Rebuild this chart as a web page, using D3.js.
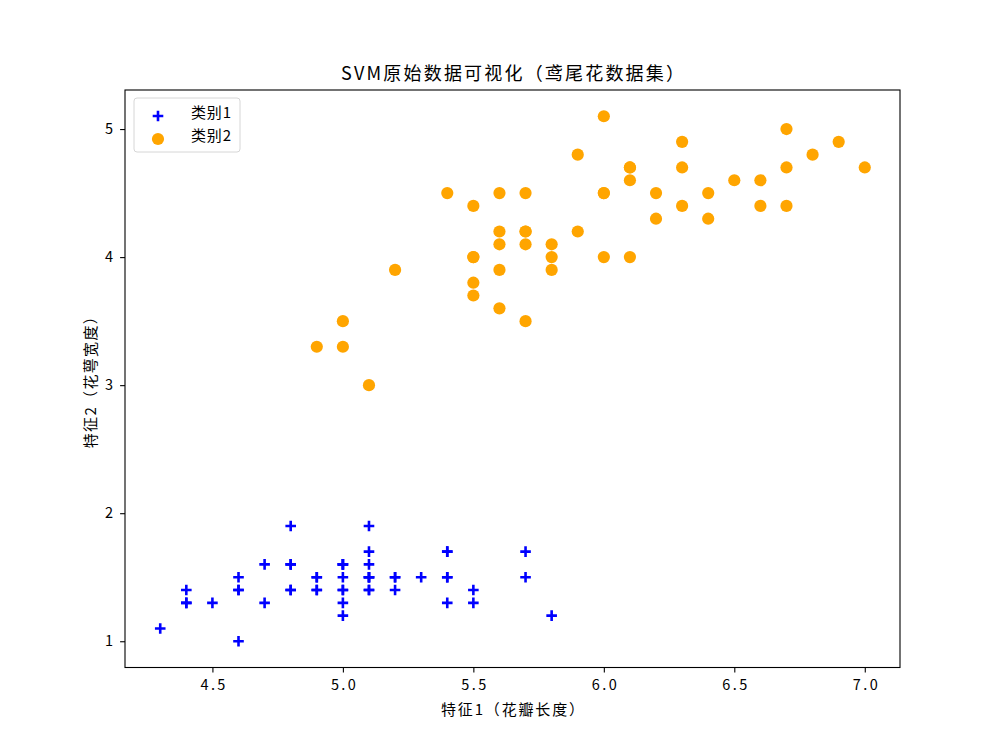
<!DOCTYPE html>
<html>
<head>
<meta charset="utf-8">
<script src="https://cdn.jsdelivr.net/npm/d3@7"></script>
<style>
  html, body { margin: 0; padding: 0; background: #fff; }
  text { font-family: "Noto Sans CJK SC", "DejaVu Sans", sans-serif; }
</style>
</head>
<body>
<svg id="chart" width="1000" height="750"></svg>
<script>
// Category 1 (blue "+")
const class1X = [5.1,4.9,4.7,4.6,5.0,5.4,4.6,5.0,4.4,4.9,5.4,4.8,4.8,4.3,5.8,5.7,5.4,5.1,5.7,5.1,5.4,5.1,4.6,5.1,4.8,5.0,5.0,5.2,5.2,4.7,4.8,5.4,5.2,5.5,4.9,5.0,5.5,4.9,4.4,5.1,5.0,4.5,4.4,5.0,5.1,4.8,5.1,4.6,5.3,5.0];
const class1Y = [1.4,1.4,1.3,1.5,1.4,1.7,1.4,1.5,1.4,1.5,1.5,1.6,1.4,1.1,1.2,1.5,1.3,1.4,1.7,1.5,1.7,1.5,1.0,1.7,1.9,1.6,1.6,1.5,1.4,1.6,1.6,1.5,1.5,1.4,1.5,1.2,1.3,1.4,1.3,1.5,1.3,1.3,1.3,1.6,1.9,1.4,1.6,1.4,1.5,1.4];
// Category 2 (orange circles)
const class2X = [7.0,6.4,6.9,5.5,6.5,5.7,6.3,4.9,6.6,5.2,5.0,5.9,6.0,6.1,5.6,6.7,5.6,5.8,6.2,5.6,5.9,6.1,6.3,6.1,6.4,6.6,6.8,6.7,6.0,5.7,5.5,5.5,5.8,6.0,5.4,6.0,6.7,6.3,5.6,5.5,5.5,6.1,5.8,5.0,5.6,5.7,5.7,6.2,5.1,5.7];
const class2Y = [4.7,4.5,4.9,4.0,4.6,4.5,4.7,3.3,4.6,3.9,3.5,4.2,4.0,4.7,3.6,4.4,4.5,4.1,4.5,3.9,4.8,4.0,4.9,4.7,4.3,4.4,4.8,5.0,4.5,3.5,3.8,3.7,3.9,5.1,4.5,4.5,4.7,4.4,4.1,4.0,4.4,4.6,4.0,3.3,4.2,4.2,4.2,4.3,3.0,4.1];

const xTicks = [4.5, 5.0, 5.5, 6.0, 6.5, 7.0];
const yTicks = [1, 2, 3, 4, 5];
const seriesNames = ["类别1", "类别2"];
const seriesColors = ["blue", "orange"];
const titleText = "SVM原始数据可视化（鸢尾花数据集）";
const xLabelText = "特征1（花瓣长度）";
const yLabelText = "特征2（花萼宽度）";

const svg = d3.select("#chart");
const L = 125, R = 900, T = 90, B = 667.5;

const allX = class1X.concat(class2X), allY = class1Y.concat(class2Y);
const xmin = d3.min(allX), xmax = d3.max(allX);
const ymin = d3.min(allY), ymax = d3.max(allY);
const xm = (xmax - xmin) * 0.05, ym = (ymax - ymin) * 0.05;

const x = d3.scaleLinear().domain([xmin - xm, xmax + xm]).range([L, R]);
const y = d3.scaleLinear().domain([ymin - ym, ymax + ym]).range([B, T]);

// Axes
const xAxis = d3.axisBottom(x).tickValues(xTicks).tickFormat(d3.format(".1f")).tickSize(4.9).tickPadding(7.5);
const yAxis = d3.axisLeft(y).tickValues(yTicks).tickFormat(d3.format("d")).tickSize(4.9).tickPadding(7);

const gx = svg.append("g").attr("transform", `translate(0,${B})`).call(xAxis);
const gy = svg.append("g").attr("transform", `translate(${L},0)`).call(yAxis);
[gx, gy].forEach(g => {
  g.select(".domain").remove();
  g.selectAll("line").attr("stroke", "#000").attr("stroke-width", 1.1);
  g.selectAll("text").attr("font-size", "14.5px").attr("fill", "#000")
    .style("font-family", '"Noto Sans CJK SC", sans-serif');
});
gx.selectAll("text").attr("textLength", 25).attr("lengthAdjust", "spacing");

// Frame
svg.append("rect").attr("x", L).attr("y", T).attr("width", R - L).attr("height", B - T)
  .attr("fill", "none").attr("stroke", "#000").attr("stroke-width", 1.1);

// Data
const plot = svg.append("g");
const d1 = class1X.map((v, i) => [v, class1Y[i]]);
const d2 = class2X.map((v, i) => [v, class2Y[i]]);

const pr = 5.3, pw = 2.6, cr = 6.1;
plot.selectAll("path.p1").data(d1).enter().append("path")
  .attr("class", "p1")
  .attr("d", d => `M${x(d[0]) - pr},${y(d[1])}H${x(d[0]) + pr}M${x(d[0])},${y(d[1]) - pr}V${y(d[1]) + pr}`)
  .attr("stroke", seriesColors[0]).attr("stroke-width", pw).attr("fill", "none");

plot.selectAll("circle.p2").data(d2).enter().append("circle")
  .attr("class", "p2")
  .attr("cx", d => x(d[0])).attr("cy", d => y(d[1])).attr("r", cr)
  .attr("fill", seriesColors[1]);

// Title & labels
svg.append("text").attr("x", (L + R) / 2).attr("y", 80).attr("text-anchor", "middle")
  .attr("font-size", "18px").attr("fill", "#000")
  .attr("textLength", 343).attr("lengthAdjust", "spacing").text(titleText);
svg.append("text").attr("x", (L + R) / 2).attr("y", 715).attr("text-anchor", "middle")
  .attr("font-size", "15px").attr("fill", "#000")
  .attr("textLength", 143).attr("lengthAdjust", "spacing").text(xLabelText);
svg.append("text").attr("transform", `translate(96,${(T + B) / 2}) rotate(-90)`).attr("text-anchor", "middle")
  .attr("font-size", "15px").attr("fill", "#000")
  .attr("textLength", 139).attr("lengthAdjust", "spacing").text(yLabelText);

// Legend
const lg = svg.append("g");
lg.append("rect").attr("x", 134).attr("y", 98).attr("width", 106).attr("height", 54)
  .attr("rx", 3).attr("fill", "#fff").attr("fill-opacity", 0.8)
  .attr("stroke", "#d6d6d6").attr("stroke-width", 1);
const lx = 158, ly = [116, 139];
lg.append("path")
  .attr("d", `M${lx - pr},${ly[0]}H${lx + pr}M${lx},${ly[0] - pr}V${ly[0] + pr}`)
  .attr("stroke", seriesColors[0]).attr("stroke-width", pw).attr("fill", "none");
lg.append("circle").attr("cx", lx).attr("cy", ly[1]).attr("r", cr).attr("fill", seriesColors[1]);
seriesNames.forEach((n, i) => {
  lg.append("text").attr("x", 191).attr("y", ly[i] - 3).attr("dy", "0.35em")
    .attr("font-size", "15px").attr("fill", "#000")
    .attr("textLength", 40).attr("lengthAdjust", "spacing").text(n);
});
</script>
</body>
</html>
